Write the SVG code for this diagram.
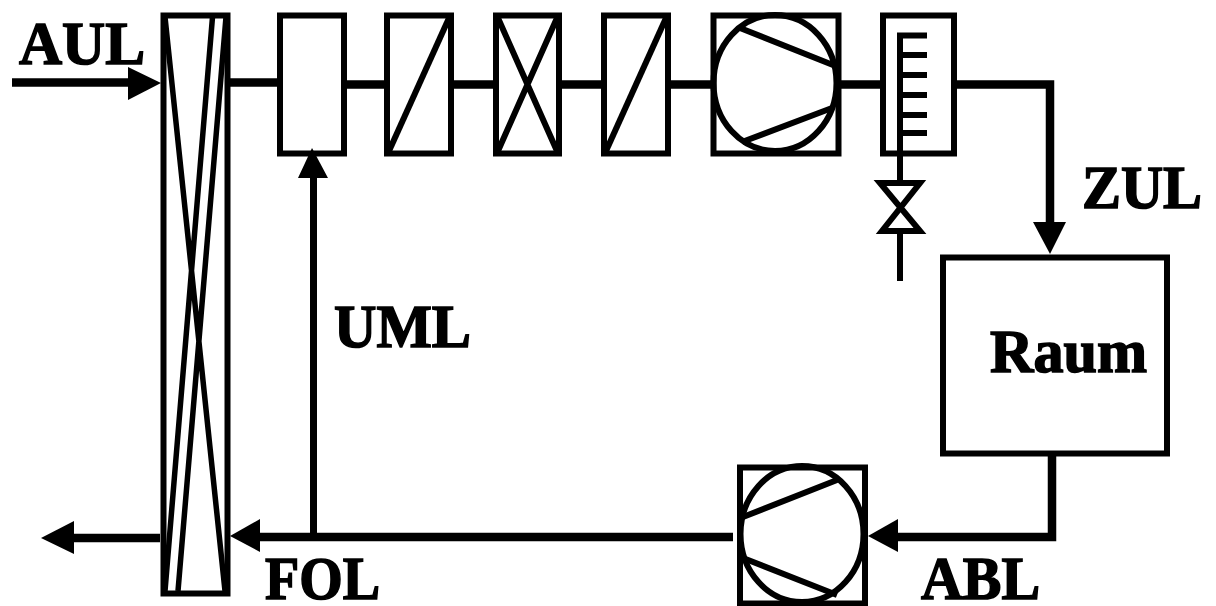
<svg xmlns="http://www.w3.org/2000/svg" width="1216" height="606" viewBox="0 0 1216 606">
<style>
.s{fill:none;stroke:#000;stroke-width:6}
.w{fill:none;stroke:#000;stroke-width:8.5}
.h{fill:#000}
text{font-family:"Liberation Serif",serif;font-weight:bold;font-size:62px;fill:#000;stroke:#000;stroke-width:1.6}
</style>
<rect width="1216" height="606" fill="#fff"/>
<g id="connectors">
<path class="w" d="M12 82.500H130"/><polygon class="h" points="128,67 161,83 128,100"/>
<path class="w" d="M230 82.500H278"/>
<path class="w" d="M346 84.500H388M452 84.500H496M560 84.500H604M668 84.500H712M840 84.500H882M956 84.500H1050V224"/>
<polygon class="h" points="1033,222 1066,222 1050,254"/>
<path class="w" d="M1052 456V537H896"/><polygon class="h" points="898,519 898,552 868,536"/>
<path class="w" d="M733 537H258"/><polygon class="h" points="260,519 260,552 230,536"/>
<path class="s" d="M313.500 535V176" style="stroke-width:7"/><polygon class="h" points="298,178 328,178 312,148"/>
<path class="w" d="M160 538H72"/><polygon class="h" points="74,521 74,554 41,538"/>
</g>
<g id="heat-recovery"><rect class="s" x="163.500" y="15.500" width="64" height="578"/><path class="s" style="stroke-width:5.5" d="M165 17L225 591M212.500 17L165 591M226 17L178 591"/></g>
<g id="mixer"><rect class="s" x="280" y="15.500" width="64" height="138"/></g>
<g id="filter1"><rect class="s" x="387" y="15.500" width="64" height="138"/><path class="s" d="M389 151L449 18"/></g>
<g id="damper"><rect class="s" x="496" y="15.500" width="63" height="138"/><path class="s" d="M498 18L557 151M557 18L498 151"/></g>
<g id="filter2"><rect class="s" x="604" y="15.500" width="64" height="138"/><path class="s" d="M606 151L666 18"/></g>
<g id="supply-fan"><rect class="s" x="713.500" y="15.500" width="125" height="138"/><ellipse class="s" cx="775" cy="83" rx="61.500" ry="68"/><path class="s" d="M740 28L833 65M742 142L832 108"/></g>
<g id="heater"><rect class="s" x="883" y="15.500" width="71" height="138"/><path class="s" d="M900 180V35.500H927M900 55H927M900 75H927M900 95H927M900 115H927M900 133H927"/><path class="s" d="M880 183H920L882 231H920Z"/><path class="s" d="M900 234V281"/></g>
<g id="room"><rect class="s" x="943" y="257.500" width="224" height="196"/><text x="990" y="372" textLength="157" lengthAdjust="spacingAndGlyphs">Raum</text></g>
<g id="exhaust-fan"><rect class="s" x="740" y="467.500" width="125" height="136"/><ellipse class="s" cx="802" cy="534" rx="61.500" ry="68"/><path class="s" d="M743 517L837 480M743 558L837 595"/></g>
<g id="labels">
<text x="19" y="64" textLength="126" lengthAdjust="spacingAndGlyphs">AUL</text>
<text x="1082" y="208" textLength="120" lengthAdjust="spacingAndGlyphs">ZUL</text>
<text x="334" y="347" textLength="137" lengthAdjust="spacingAndGlyphs">UML</text>
<text x="265" y="599" textLength="115" lengthAdjust="spacingAndGlyphs">FOL</text>
<text x="921" y="599" textLength="119" lengthAdjust="spacingAndGlyphs">ABL</text>
</g>
</svg>
